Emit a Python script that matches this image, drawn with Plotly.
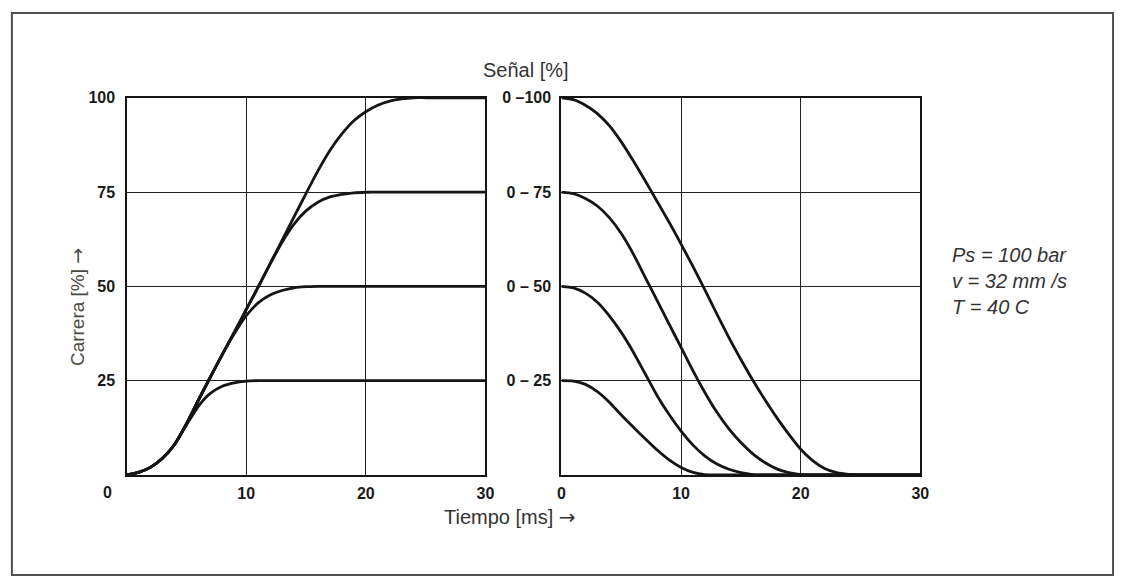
import plotly.graph_objects as go

# Time axis shared by all curves [ms]
tiempo = list(range(0, 31))

# Left panel: stroke [%] after a step of the command signal (0 -> 100/75/50/25 %)
carrera_100 = [0, 0.7, 2.0, 4.4, 8.0, 13.5, 19.8, 25.9, 31.9, 37.8,
               43.8, 49.8, 56.0, 62.2, 68.4, 74.6, 80.6, 86.0, 90.4, 93.9,
               96.3, 98.0, 99.1, 99.7, 100, 100, 100, 100, 100, 100, 100]
carrera_75 = [0, 0.7, 2.0, 4.4, 8.0, 13.5, 19.8, 25.9, 31.9, 37.8,
              43.8, 49.8, 55.9, 61.7, 66.5, 70.0, 72.3, 73.7, 74.4, 74.8,
              74.95, 75, 75, 75, 75, 75, 75, 75, 75, 75, 75]
carrera_50 = [0, 0.7, 2.0, 4.4, 8.0, 13.5, 19.8, 25.9, 31.9, 37.4,
              42.2, 45.6, 47.7, 48.9, 49.6, 49.9, 50, 50, 50, 50,
              50, 50, 50, 50, 50, 50, 50, 50, 50, 50, 50]
carrera_25 = [0, 0.7, 2.0, 4.4, 8.0, 13.2, 18.2, 21.6, 23.5, 24.4,
              24.85, 25, 25, 25, 25, 25, 25, 25, 25, 25,
              25, 25, 25, 25, 25, 25, 25, 25, 25, 25, 25]

# Right panel: stroke [%] after the signal steps back (100/75/50/25 % -> 0)
senal_100 = [100, 99.5, 98.0, 95.8, 92.6, 88.3, 83.3, 78.0, 72.5, 67.0,
             61.2, 55.2, 49.0, 42.6, 36.4, 30.6, 25.1, 20.0, 15.2, 10.8,
             6.8, 3.8, 1.7, 0.6, 0.15, 0, 0, 0, 0, 0, 0]
senal_75 = [75, 74.6, 73.3, 71.3, 68.2, 64.0, 58.6, 52.4, 46.2, 40.0,
            33.8, 27.6, 21.8, 16.6, 12.2, 8.6, 5.6, 3.3, 1.6, 0.6,
            0.1, 0, 0, 0, 0, 0, 0, 0, 0, 0, 0]
senal_50 = [50, 49.6, 48.2, 45.8, 42.2, 37.8, 32.6, 26.8, 21.0, 16.0,
            11.6, 7.9, 5.0, 2.9, 1.5, 0.6, 0.1, 0, 0, 0,
            0, 0, 0, 0, 0, 0, 0, 0, 0, 0, 0]
senal_25 = [25, 24.9, 24.0, 22.1, 19.3, 15.9, 12.7, 9.6, 6.6, 4.0,
            2.0, 0.7, 0.1, 0, 0, 0, 0, 0, 0, 0,
            0, 0, 0, 0, 0, 0, 0, 0, 0, 0, 0]

x_ticks = [0, 10, 20, 30]
y_ticks = [25, 50, 75, 100]
carrera_labels = ["25", "50", "75", "100"]
senal_labels = ["0 \u2013 25", "0 \u2013 50", "0 \u2013 75", "0 \u2013100"]

INK = "#151515"
SANS = "Liberation Sans, Arial, Helvetica, sans-serif"
ARROW = '<span style="font-family:DejaVu Sans">\u2192</span>'

fig = go.Figure()
curve = dict(color=INK, width=2.8, shape="spline", smoothing=0.6)
for serie in [carrera_100, carrera_75, carrera_50, carrera_25]:
    fig.add_trace(go.Scatter(x=tiempo, y=serie, mode="lines", line=curve,
                             xaxis="x", yaxis="y", showlegend=False, hoverinfo="skip"))
for serie in [senal_100, senal_75, senal_50, senal_25]:
    fig.add_trace(go.Scatter(x=tiempo, y=serie, mode="lines", line=curve,
                             xaxis="x2", yaxis="y2", showlegend=False, hoverinfo="skip"))

tickfont = dict(family=SANS, size=16, color="#1a1a1a", weight="bold")
axis_common = dict(
    showline=True, mirror=True, linecolor=INK, linewidth=2.4,
    showgrid=True, gridcolor="#222222", gridwidth=1.4,
    zeroline=False, ticks="", tickfont=tickfont,
)

fig.update_layout(
    width=1125, height=577,
    margin=dict(l=0, r=0, t=0, b=0),
    paper_bgcolor="white", plot_bgcolor="white",
    xaxis=dict(domain=[124 / 1125, 487 / 1125], range=[0, 30],
               tickvals=x_ticks[1:], ticktext=[str(v) for v in x_ticks[1:]],
               ticklabelstandoff=3, **axis_common),
    yaxis=dict(domain=[1 - 473.5 / 577, 1 - 91 / 577], range=[0, 100],
               tickvals=y_ticks, ticktext=carrera_labels,
               ticklabelstandoff=6, **axis_common),
    xaxis2=dict(domain=[564 / 1125, 927 / 1125], range=[0, 30], anchor="y2",
                tickvals=x_ticks, ticktext=[str(v) for v in x_ticks],
                ticklabelstandoff=3, **axis_common),
    yaxis2=dict(domain=[1 - 473.5 / 577, 1 - 91 / 577], range=[0, 100], anchor="x2",
                tickvals=y_ticks, ticktext=senal_labels,
                ticklabelstandoff=5, **axis_common),
)

# origin label of the left panel sits below the y tick labels
fig.add_annotation(x=0, y=0, xref="x", yref="y", text="0", showarrow=False,
                   xshift=-19, yshift=-18, font=tickfont)

txt = dict(family=SANS, size=20, color="#333333")
fig.add_annotation(x=528 / 1125, y=1 - 50 / 577, xref="paper", yref="paper",
                   text="Señal [%]", showarrow=False, font=txt)
fig.add_annotation(x=512 / 1125, y=1 - 530 / 577, xref="paper", yref="paper",
                   text="Tiempo [ms] " + ARROW, showarrow=False, font=txt)
fig.add_annotation(x=61 / 1125, y=1 - 303 / 577, xref="paper", yref="paper",
                   text="Carrera [%] " + ARROW, textangle=-90, showarrow=False,
                   font=dict(family=SANS, size=19, color="#4a4a42"))
fig.add_annotation(x=957 / 1125, y=1 - 277 / 577, xref="paper", yref="paper",
                   xanchor="left", yanchor="middle", align="left",
                   text="Ps = 100 bar<br>v = 32 mm /s<br>T = 40 C", showarrow=False,
                   font=dict(family=SANS, size=20, color="#333333", style="italic"))

# outer frame
fig.add_shape(type="rect", xref="paper", yref="paper",
              x0=8 / 1125, x1=1122 / 1125, y0=1 - 575 / 577, y1=1 - 5 / 577,
              line=dict(color="#505050", width=2), fillcolor="rgba(0,0,0,0)")

fig.write_html("out.html")
